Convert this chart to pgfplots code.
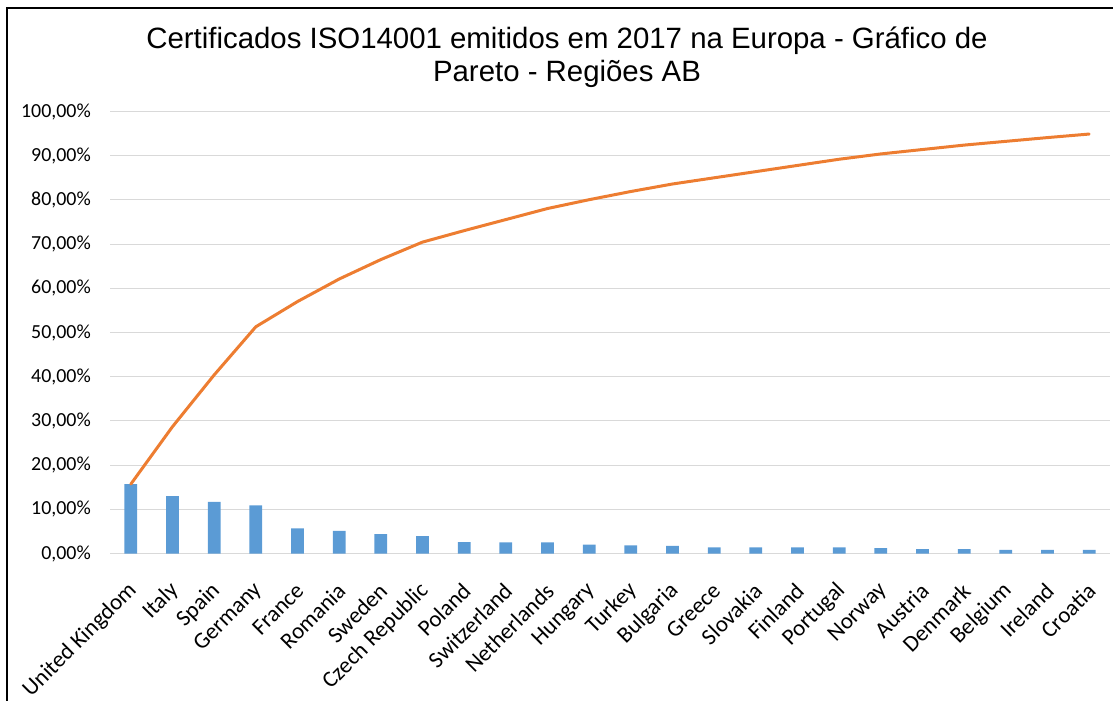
\documentclass[border=0pt]{standalone}
\usepackage{fontspec}
\setmainfont{Carlito}
\newfontfamily\titlefont{Liberation Sans}
\usepackage{pgfplots}
\usepackage{pgfplotstable}
\pgfplotsset{compat=1.18}

\definecolor{barblue}{HTML}{5B9BD5}
\definecolor{lineorange}{HTML}{ED7D31}
\definecolor{gridgray}{HTML}{D9D9D9}

% idx: category position, share: share of certificates (%), cum: cumulative share (%)
\pgfplotstableread{
idx share cum
0  15.70 15.70
1  13.00 28.70
2  11.70 40.40
3  10.90 51.30
4   5.70 57.00
5   5.10 62.10
6   4.40 66.50
7   3.95 70.45
8   2.60 73.05
9   2.50 75.55
10  2.50 78.05
11  2.00 80.05
12  1.85 81.90
13  1.70 83.60
14  1.40 85.00
15  1.40 86.40
16  1.40 87.80
17  1.40 89.20
18  1.20 90.40
19  1.00 91.40
20  1.00 92.40
21  0.85 93.25
22  0.85 94.10
23  0.80 94.90
}\paretodata

\begin{document}
\begin{tikzpicture}
\path[use as bounding box] (0bp,0bp) rectangle (1113bp,-701bp);
% chart frame
\draw[black, line width=1.2bp] (7bp,-701bp) -- (7bp,-8bp) -- (1113bp,-8bp);
% title
\node[anchor=base, font=\titlefont\fontsize{29.5}{34}\selectfont, inner sep=0pt]
  at (567bp,-48bp) {Certificados ISO14001 emitidos em 2017 na Europa - Gráfico de};
\node[anchor=base, font=\titlefont\fontsize{29.5}{34}\selectfont, inner sep=0pt]
  at (567bp,-81.5bp) {Pareto - Regiões AB};

\begin{axis}[
  at={(110bp,-553.5bp)}, anchor=south west,
  scale only axis, width=1000bp, height=442bp,
  xmin=-0.5, xmax=23.5, ymin=0, ymax=100,
  clip=false,
  axis x line*=bottom, axis y line*=left,
  y axis line style={draw=none},
  x axis line style={draw=gridgray, line width=1.6bp, -},
  major tick length=0pt,
  ymajorgrids, grid style={draw=gridgray, line width=1bp},
  ytick={0,10,...,100},
  yticklabels={{0,00\%},{10,00\%},{20,00\%},{30,00\%},{40,00\%},{50,00\%},{60,00\%},{70,00\%},{80,00\%},{90,00\%},{100,00\%}},
  yticklabel style={font=\fontsize{20}{24}\selectfont, anchor=east, inner sep=0pt, xshift=-19bp},
  xtick={0,...,23},
  xticklabels={United Kingdom,Italy,Spain,Germany,France,Romania,Sweden,Czech Republic,Poland,Switzerland,Netherlands,Hungary,Turkey,Bulgaria,Greece,Slovakia,Finland,Portugal,Norway,Austria,Denmark,Belgium,Ireland,Croatia},
  % shifts below act in the rotated frame of the label
  xticklabel style={font=\fontsize{23}{28}\selectfont, rotate=45, anchor=east, inner sep=0pt, xshift=-22bp, yshift=-25.5bp},
]
\addplot[ybar, bar width=12.7bp, bar shift=0pt, fill=barblue, draw=none] table[x=idx, y=share] {\paretodata};
\addplot[lineorange, line width=3bp, line join=round, line cap=round, mark=none] table[x=idx, y=cum] {\paretodata};
\end{axis}
\end{tikzpicture}
\end{document}
